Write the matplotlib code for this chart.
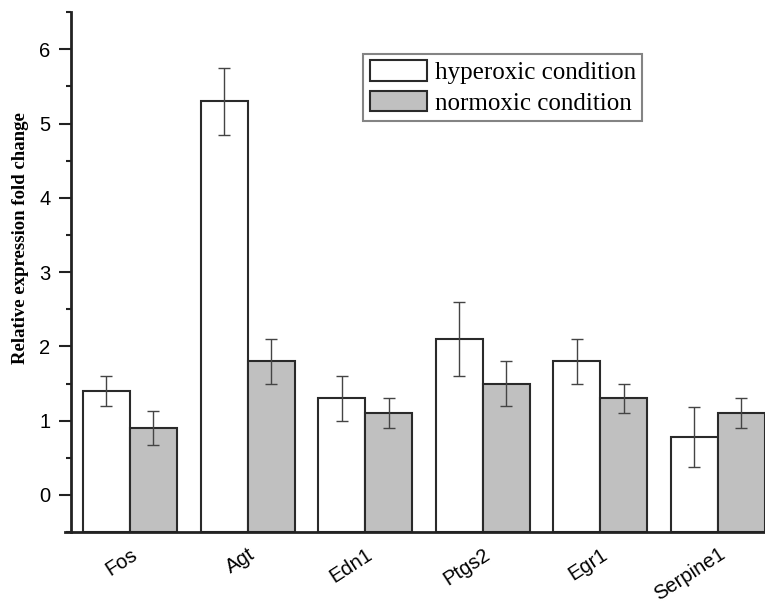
import matplotlib
matplotlib.use("Agg")
import matplotlib.pyplot as plt
import matplotlib.transforms as mtransforms
import numpy as np

genes = ["Fos", "Agt", "Edn1", "Ptgs2", "Egr1", "Serpine1"]
hyperoxic = [1.4, 5.3, 1.3, 2.1, 1.8, 0.78]
hyperoxic_err = [0.2, 0.45, 0.3, 0.5, 0.3, 0.4]
normoxic = [0.9, 1.8, 1.1, 1.5, 1.3, 1.1]
normoxic_err = [0.23, 0.3, 0.2, 0.3, 0.2, 0.2]
series_labels = ["hyperoxic condition", "normoxic condition"]
yticks = [0, 1, 2, 3, 4, 5, 6]

base = -0.5
fig = plt.figure(figsize=(7.65, 6.04), dpi=100)
ax = fig.add_axes([0.093, 0.119, 0.907, 0.861])

x = np.arange(len(genes))
w = 0.4
edge = "#2a2a2a"
ax.bar(x - w/2, np.array(hyperoxic) - base, w, bottom=base, color="white",
       edgecolor=edge, linewidth=1.5, label=series_labels[0], zorder=2)
ax.bar(x + w/2, np.array(normoxic) - base, w, bottom=base, color="#c0c0c0",
       edgecolor=edge, linewidth=1.5, label=series_labels[1], zorder=2)
ax.errorbar(x - w/2, hyperoxic, yerr=hyperoxic_err, fmt="none", ecolor="#444444",
            elinewidth=1.0, capsize=4, capthick=1.0, zorder=3)
ax.errorbar(x + w/2, normoxic, yerr=normoxic_err, fmt="none", ecolor="#444444",
            elinewidth=1.0, capsize=4, capthick=1.0, zorder=3)

ax.set_ylim(-0.5, 6.5)
ax.set_xlim(-0.5, 5.4)
ax.set_yticks(yticks)
ax.set_yticks(np.arange(-0.5, 6.6, 0.5), minor=True)
ax.set_xticks(x)
ax.set_xticklabels(genes, rotation=33, fontsize=14.5, family="Liberation Sans",
                   ha="right", rotation_mode="anchor")
offset = mtransforms.ScaledTranslation(-2/100, 0, fig.dpi_scale_trans)
for lbl in ax.get_xticklabels():
    lbl.set_transform(lbl.get_transform() + offset)
for lbl in ax.get_yticklabels():
    lbl.set_family("Liberation Sans")
    lbl.set_fontsize(14.5)
ax.tick_params(axis="y", which="major", length=9, width=1.5, direction="out",
               colors="#222222", labelcolor="black", pad=6)
ax.tick_params(axis="y", which="minor", length=3.5, width=1.5, direction="out", colors="#222222")
ax.tick_params(axis="x", which="both", length=0, pad=9)
ax.spines["top"].set_visible(False)
ax.spines["right"].set_visible(False)
ax.spines["left"].set_linewidth(2)
ax.spines["bottom"].set_linewidth(2)
ax.spines["left"].set_color("#222222")
ax.spines["bottom"].set_color("#222222")
ax.spines["bottom"].set_bounds(-0.55, 5.4)
ax.set_ylabel("Relative expression fold change", family="Liberation Serif",
              fontweight="bold", fontsize=13.5)
ax.yaxis.set_label_coords(-0.061, 0.565)

leg = ax.legend(loc="upper left", bbox_to_anchor=(0.421, 0.919), borderaxespad=0,
                prop={"family": "Liberation Serif", "size": 18},
                frameon=True, fancybox=False, edgecolor="#666666", handlelength=2.3,
                handleheight=0.9, handletextpad=0.3, borderpad=0.25, labelspacing=0.25)
leg.get_frame().set_linewidth(1.5)

fig.savefig("out.png", dpi=100)
